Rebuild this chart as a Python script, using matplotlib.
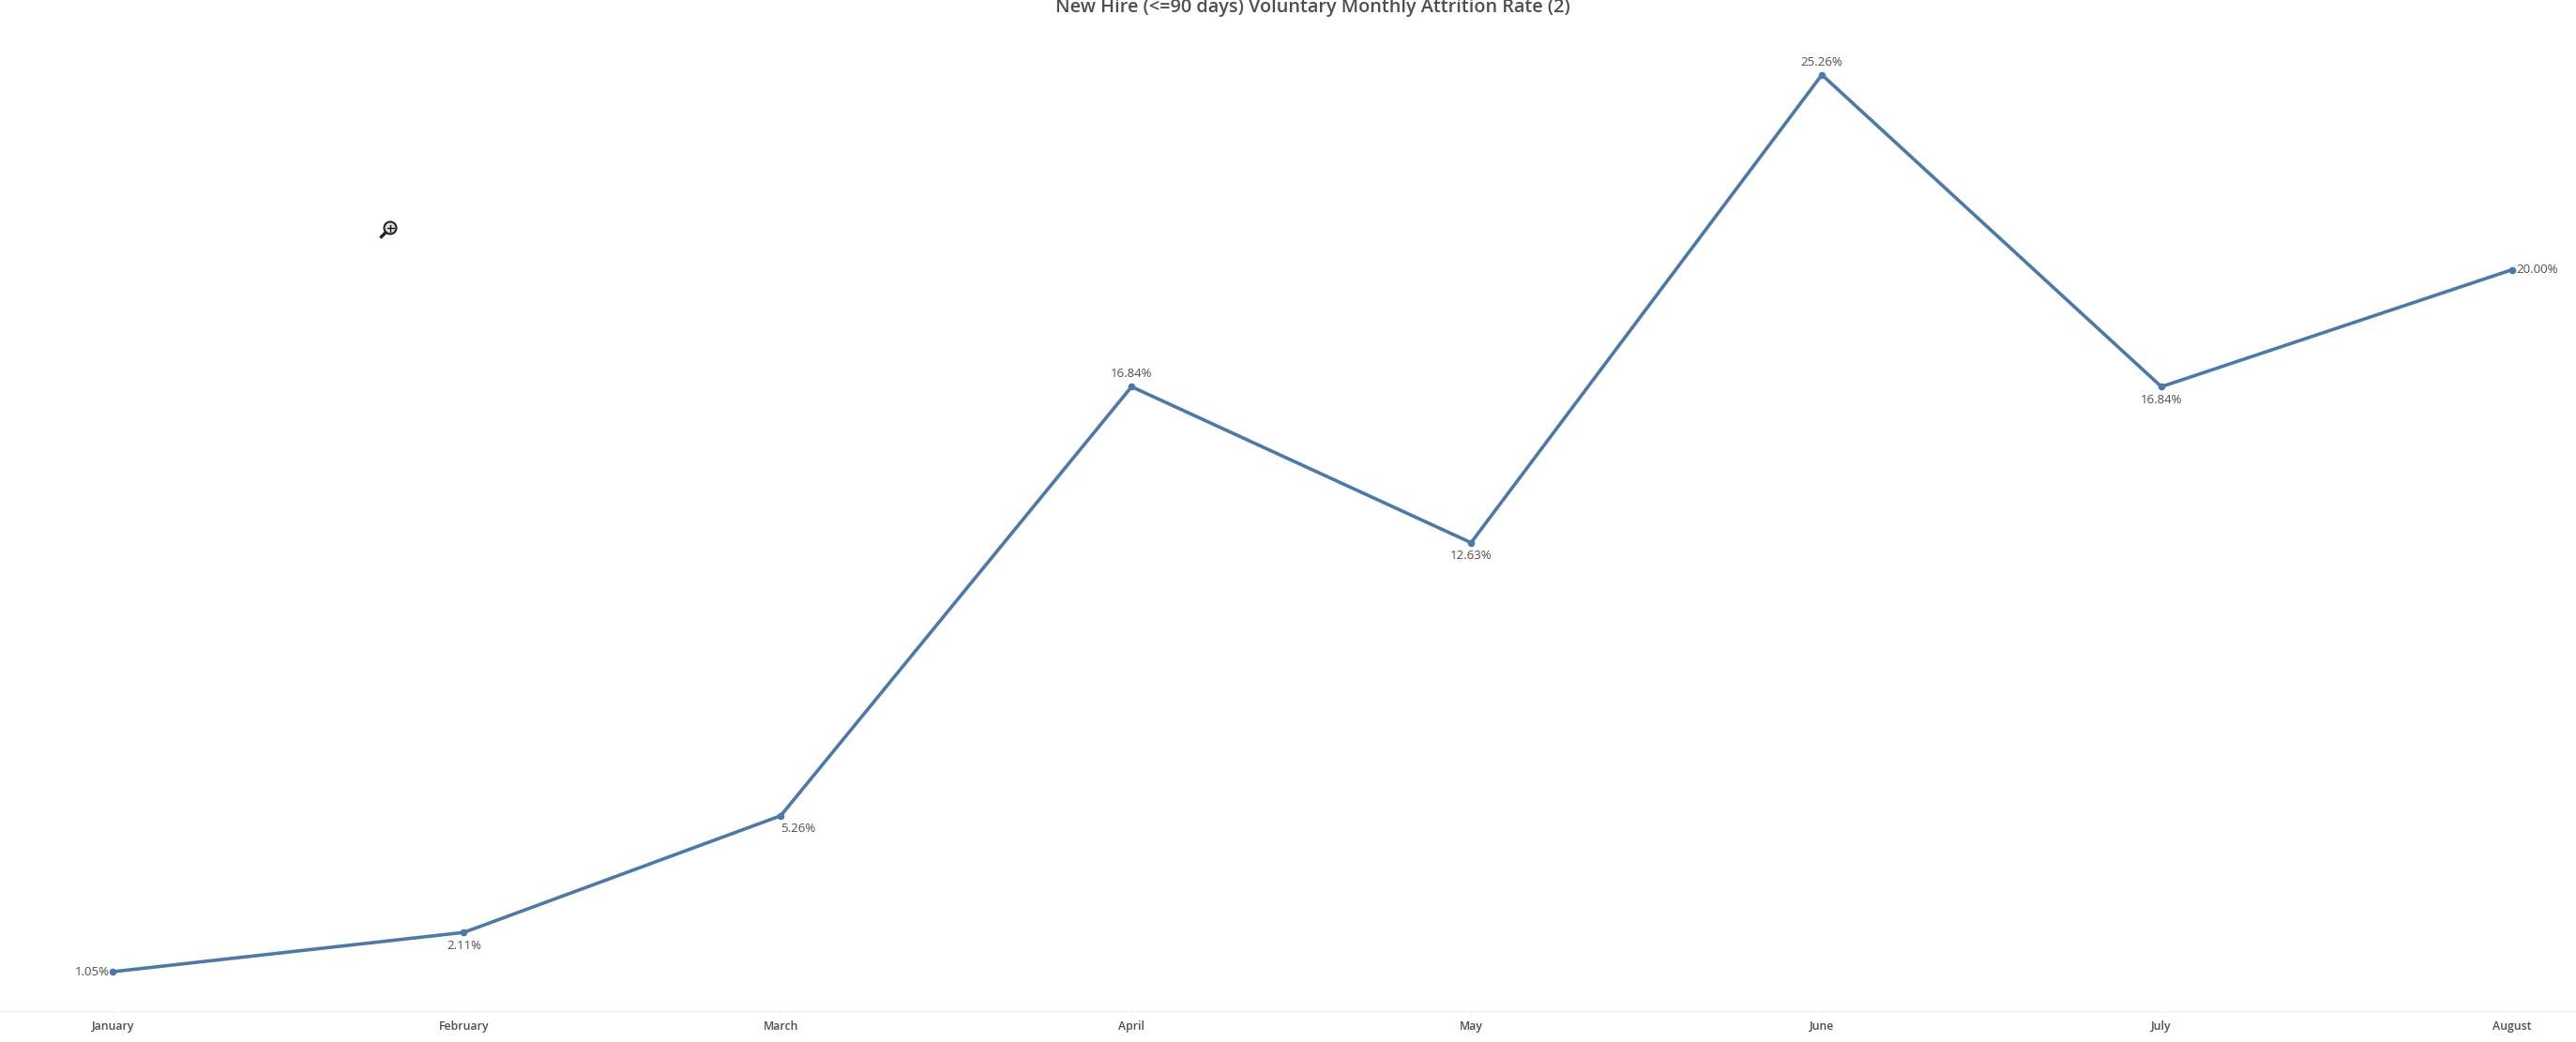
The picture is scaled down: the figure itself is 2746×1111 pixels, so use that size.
import numpy as np
import matplotlib
matplotlib.use("Agg")
import matplotlib.pyplot as plt
import matplotlib.dates as mdates
from matplotlib.patches import Circle
from matplotlib.lines import Line2D

months = ["January", "February", "March", "April", "May", "June", "July", "August"]
dates = np.array(["2023-01-01", "2023-02-01", "2023-03-01", "2023-04-01",
                  "2023-05-01", "2023-06-01", "2023-07-01", "2023-08-01"], dtype="datetime64[D]")
rates = [1.05, 2.11, 5.26, 16.84, 12.63, 25.26, 16.84, 20.00]
# where each label sits relative to its point
label_pos = ["left", "below", "below_right", "above", "below", "above", "below", "right"]

W, H = 2746, 1111
BLUE = "#4e79a7"
TEXT = "#4f4f4f"

plt.rcParams["font.family"] = ["Open Sans", "DejaVu Sans"]

fig = plt.figure(figsize=(W / 100, H / 100), dpi=100)
ax = fig.add_axes([0, (H - 1077.5) / H, 1, 1077.5 / H])

x = mdates.date2num(dates)
px_day = (2678 - 120.5) / 212
ax.set_xlim(x[0] - 120.5 / px_day, x[-1] + (W - 2678) / px_day)
ax.set_ylim(0, 1077.5 / 39.5)

ax.plot(x, rates, color=BLUE, lw=2.6, solid_joinstyle="round", marker="o", ms=4.5,
        mfc=BLUE, mec=BLUE, clip_on=False)

offsets = {"left": (-3, 0, "right", "center"), "right": (3, 0, "left", "center"),
           "above": (0, 5, "center", "bottom"), "below": (0, -5.5, "center", "top"),
           "below_right": (0, -5.5, "left", "top")}
for xi, r, pos in zip(x, rates, label_pos):
    dx, dy, ha, va = offsets[pos]
    ax.annotate(f"{r:.2f}%", (xi, r), xytext=(dx, dy), textcoords="offset points",
                ha=ha, va=va, fontsize=9.5, color=TEXT)

for s in ["top", "left", "right"]:
    ax.spines[s].set_visible(False)
ax.spines["bottom"].set_color("#f0f0f0")
ax.spines["bottom"].set_linewidth(1)
ax.set_yticks([])
ax.set_xticks(x)
ax.set_xticklabels(months, fontsize=8.8, fontweight="semibold", color=TEXT)
ax.tick_params(axis="x", length=3, width=0.8, color="#eeeeee", pad=4.5)
ax.xaxis.set_minor_locator(mdates.DayLocator())
ax.tick_params(axis="x", which="minor", length=1.5, width=0.5, color="#f5f5f5")

fig.text(1399 / W, 1 - 8 / H, "New Hire (<=90 days) Voluntary Monthly Attrition Rate (2)",
         ha="center", va="center", fontsize=14.3, fontweight="semibold", color=TEXT)

# zoom cursor left in the screenshot
ix, iy = 416, 243
cur = fig.add_axes([0, 0, 1, 1], facecolor="none")
cur.set_xlim(0, W)
cur.set_ylim(H, 0)
cur.axis("off")
cur.add_patch(Circle((ix, iy), 6.5, fc="#e2e2e2", ec="#222222", lw=1.5))
cur.add_line(Line2D([ix - 5, ix - 9.5], [iy + 5, iy + 9.5], color="#222222", lw=2.4))
cur.add_line(Line2D([ix - 3.5, ix + 3.5], [iy, iy], color="#111111", lw=1.0))
cur.add_line(Line2D([ix, ix], [iy - 3.5, iy + 3.5], color="#111111", lw=1.0))

fig.savefig("out.png", dpi=100)
